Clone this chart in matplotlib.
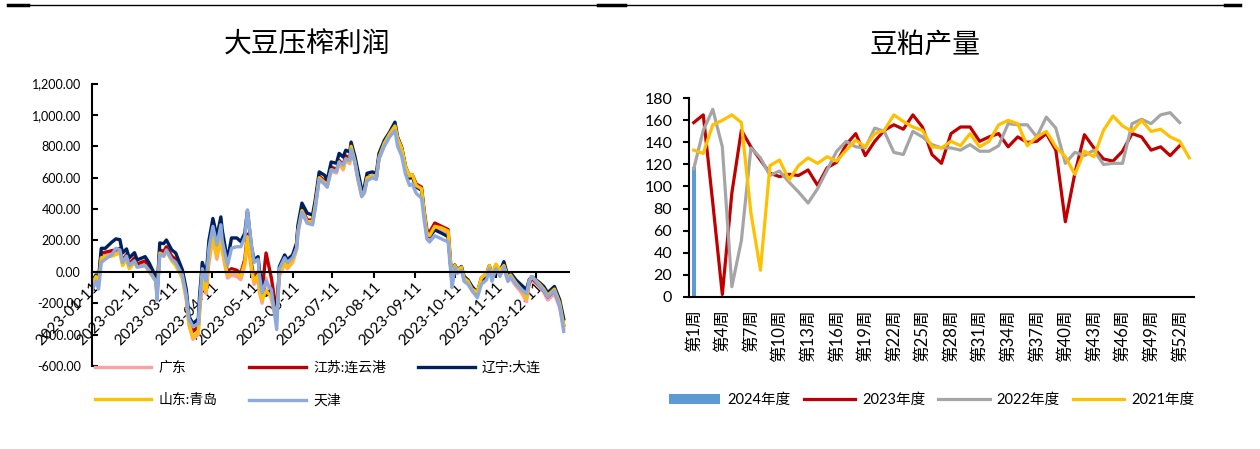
import matplotlib
matplotlib.use('Agg')
import matplotlib.pyplot as plt
import matplotlib.dates as mdates
from matplotlib.lines import Line2D
from matplotlib.ticker import FuncFormatter
import pandas as pd

plt.rcParams['font.family'] = ['Lato', 'Noto Sans CJK SC', 'DejaVu Sans']
plt.rcParams['axes.unicode_minus'] = False

# ---------------- 大豆压榨利润 (元/吨) ----------------
dates = ['2023-01-11', '2023-01-14', '2023-01-16', '2023-01-18', '2023-01-21', '2023-01-26', '2023-01-29',
         '2023-02-01', '2023-02-03', '2023-02-06', '2023-02-08', '2023-02-12', '2023-02-14', '2023-02-20',
         '2023-02-23', '2023-02-28', '2023-03-01', '2023-03-03', '2023-03-06', '2023-03-08', '2023-03-12',
         '2023-03-15', '2023-03-20', '2023-03-23', '2023-03-25', '2023-03-28', '2023-04-01', '2023-04-02',
         '2023-04-04', '2023-04-07', '2023-04-09', '2023-04-12', '2023-04-15', '2023-04-18', '2023-04-19',
         '2023-04-22', '2023-04-23', '2023-04-26', '2023-04-30', '2023-05-03', '2023-05-06', '2023-05-08',
         '2023-05-11', '2023-05-13', '2023-05-16', '2023-05-17', '2023-05-19', '2023-05-22', '2023-05-26',
         '2023-05-30', '2023-06-01', '2023-06-05', '2023-06-07', '2023-06-11', '2023-06-14', '2023-06-15',
         '2023-06-18', '2023-06-22', '2023-06-26', '2023-06-28', '2023-07-01', '2023-07-05', '2023-07-07',
         '2023-07-10', '2023-07-14', '2023-07-16', '2023-07-19', '2023-07-21', '2023-07-24', '2023-07-25',
         '2023-07-28', '2023-07-30', '2023-08-02', '2023-08-04', '2023-08-06', '2023-08-10', '2023-08-13',
         '2023-08-15', '2023-08-19', '2023-08-23', '2023-08-27', '2023-08-29', '2023-09-01', '2023-09-04',
         '2023-09-07', '2023-09-09', '2023-09-12', '2023-09-16', '2023-09-18', '2023-09-20', '2023-09-22',
         '2023-09-26', '2023-10-01', '2023-10-06', '2023-10-09', '2023-10-11', '2023-10-13', '2023-10-16',
         '2023-10-18', '2023-10-21', '2023-10-24', '2023-10-28', '2023-10-31', '2023-11-04', '2023-11-06',
         '2023-11-08', '2023-11-11', '2023-11-14', '2023-11-17', '2023-11-20', '2023-11-22', '2023-11-26',
         '2023-11-30', '2023-12-04', '2023-12-06', '2023-12-08', '2023-12-14', '2023-12-17', '2023-12-20',
         '2023-12-25', '2023-12-29', '2024-01-01']

guangdong = [-90, -40, -70, 100, 105, 115, 130, 130, 50, 90,
             30, 70, 40, 50, 10, -60, -160, 120, 110, 140,
             80, 50, -40, -180, -340, -430, -400, -260, -60, -140,
             60, 210, 80, 240, 130, 0, -40, -20, -30, -50,
             40, 200, 10, -80, -40, -130, -200, -40, -180, -320,
             -30, 50, 20, 60, 140, 250, 380, 310, 310, 410,
             590, 560, 540, 640, 630, 690, 650, 710, 690, 790,
             690, 590, 480, 500, 590, 600, 590, 720, 810, 870,
             920, 840, 780, 660, 600, 610, 540, 520, 370, 240,
             220, 280, 270, 250, -80, 30, 0, 20, -50, -70,
             -120, -150, -60, -30, 20, -40, 30, -10, 20, -60,
             -40, -90, -130, -190, -80, -50, -100, -130, -180, -140,
             -230, -360]

jiangsu = [-70, -30, -50, 120, 125, 135, 140, 150, 70, 110,
           50, 90, 50, 70, 30, -40, -130, 140, 130, 160,
           100, 80, -20, -150, -300, -380, -350, -220, -10, -90,
           110, 260, 130, 280, 180, 40, 0, 20, 10, -10,
           80, 240, 50, -40, 0, -80, -120, 120, -40, -260,
           0, 90, 50, 100, 170, 280, 400, 330, 330, 430,
           610, 580, 560, 670, 650, 710, 680, 740, 720, 800,
           700, 610, 500, 520, 600, 610, 600, 730, 820, 880,
           930, 850, 790, 670, 610, 620, 560, 540, 390, 270,
           250, 311, 290, 270, -70, 40, 10, 30, -30, -60,
           -100, -130, -40, -10, 40, -20, 40, 10, 40, -40,
           -20, -70, -110, -150, -70, -40, -90, -120, -160, -120,
           -210, -340]

dalian = [-60, -20, -40, 150, 150, 190, 210, 205, 120, 146,
          89, 122, 76, 97, 57, -30, -114, 184, 180, 203,
          140, 120, 13, -114, -284, -330, -300, -150, 60, -20,
          200, 340, 224, 350, 267, 120, 76, 216, 216, 193,
          247, 390, 161, 76, 97, 13, -70, -150, -114, -280,
          34, 108, 76, 108, 184, 298, 438, 374, 362, 457,
          637, 616, 584, 700, 692, 755, 732, 775, 764, 827,
          732, 648, 521, 542, 628, 637, 628, 755, 838, 891,
          954, 859, 796, 669, 597, 605, 542, 521, 374, 247,
          224, 267, 247, 224, -70, 44, 13, 34, -30, -51,
          -93, -133, -51, -30, 34, -30, 44, 2, 65, -30,
          -6, -51, -83, -114, -51, -30, -70, -93, -133, -93,
          -178, -300]

qingdao = [-80, -30, -60, 90, 95, 100, 110, 120, 40, 80,
           20, 60, 30, 40, 0, -60, -150, 120, 100, 130,
           70, 40, -40, -170, -330, -420, -380, -250, -40, -120,
           80, 230, 100, 260, 150, 20, -20, 0, -10, -30,
           60, 224, 30, -60, -20, -110, -180, -120, -160, -300,
           -20, 60, 30, 70, 150, 260, 390, 320, 320, 420,
           600, 570, 550, 650, 640, 700, 660, 720, 700, 800,
           700, 600, 490, 510, 600, 610, 600, 730, 820, 880,
           930, 850, 790, 670, 610, 620, 550, 530, 380, 250,
           230, 290, 280, 260, -60, 40, 10, 30, -40, -60,
           -110, -130, -40, -10, 40, -20, 50, 10, 40, -40,
           -20, -70, -110, -170, -60, -30, -80, -110, -150, -110,
           -200, -340]

tianjin = [-120, -60, -110, 60, 80, 110, 150, 140, 60, 100,
           40, 70, 30, 40, 10, -60, -180, 110, 100, 140,
           80, 60, -20, -150, -300, -350, -330, -200, 20, -60,
           150, 290, 170, 300, 200, 80, 40, 150, 160, 160,
           220, 395, 170, 60, 80, -20, -133, -60, -114, -368,
           20, 90, 60, 90, 150, 250, 380, 310, 300, 400,
           590, 560, 540, 650, 640, 700, 680, 720, 710, 780,
           690, 600, 480, 510, 580, 600, 590, 720, 800, 860,
           900, 800, 740, 620, 550, 560, 500, 470, 330, 210,
           190, 230, 210, 190, -100, 30, -10, 10, -60, -80,
           -120, -165, -80, -50, 20, -60, 20, -30, 30, -60,
           -30, -80, -110, -140, -60, -30, -90, -120, -160, -120,
           -220, -380]

# ---------------- 豆粕产量 (万吨, 周度) ----------------
weeks = [f'第{i}周' for i in range(1, 54)]
meal_2024 = [118]
meal_2023 = [158, 165, 85, 2, 94, 151, 136, 124, 112, 109, 111, 110, 115, 101, 117, 122, 138, 148,
             128, 141, 151, 156, 152, 165, 154, 129, 121, 148, 154, 154, 141, 145, 148, 136, 145, 140,
             141, 148, 133, 68, 112, 147, 135, 125, 123, 132, 148, 145, 133, 136, 128, 137]
meal_2022 = [116, 151, 170, 136, 9, 51, 135, 126, 110, 114, 104, 95, 85, 98, 115, 132, 141, 136,
             135, 153, 150, 131, 129, 150, 145, 138, 135, 135, 133, 138, 132, 132, 137, 157, 156, 156,
             145, 163, 153, 121, 131, 128, 133, 120, 121, 121, 157, 161, 157, 165, 167, 158]
meal_2021 = [133, 130, 156, 160, 165, 158, 76, 24, 119, 124, 106, 119, 126, 121, 127, 123, 133, 142,
             136, 148, 151, 165, 159, 154, 151, 136, 135, 141, 137, 148, 136, 141, 156, 160, 157, 137,
             145, 150, 136, 127, 111, 132, 127, 151, 164, 155, 150, 160, 150, 152, 145, 141, 126]

fig = plt.figure(figsize=(12.6, 4.49), dpi=100)

# 顶部边框线
fig.add_artist(Line2D([8 / 1260, 1240 / 1260], [0.989, 0.989], transform=fig.transFigure,
                      color='black', lw=1.0))
for x0, x1 in [(8, 28), (598, 625), (1225, 1240)]:
    fig.add_artist(Line2D([x0 / 1260, x1 / 1260], [0.989, 0.989], transform=fig.transFigure,
                          color='black', lw=2.5))

# ============================================================
# 左图: 大豆压榨利润
# ============================================================
ax1 = fig.add_axes([0.073, 0.1849, 0.3786, 0.629])
x = pd.to_datetime(dates)
series = [
    (guangdong, '广东', '#FF9F9F'),
    (jiangsu, '江苏:连云港', '#C00000'),
    (dalian, '辽宁:大连', '#002060'),
    (qingdao, '山东:青岛', '#FFC000'),
    (tianjin, '天津', '#8EA9DB'),
]
lines = {}
for vals, name, color in series:
    ln, = ax1.plot(x, vals, color=color, lw=2.4, label=name, solid_joinstyle='round')
    lines[name] = ln

ax1.set_ylim(-600, 1200)
ax1.set_yticks(range(-600, 1201, 200))
ax1.yaxis.set_major_formatter(FuncFormatter(lambda v, p: f'{v:,.2f}'))
ax1.set_xlim(pd.Timestamp('2023-01-11'), pd.Timestamp('2024-01-05'))
ax1.xaxis.set_major_locator(mdates.MonthLocator(bymonthday=11))
ax1.xaxis.set_major_formatter(mdates.DateFormatter('%Y-%m-%d'))
ax1.spines['bottom'].set_position(('data', 0))
for s in ['top', 'right']:
    ax1.spines[s].set_visible(False)
for s in ['left', 'bottom']:
    ax1.spines[s].set_linewidth(1.5)
ax1.tick_params(axis='y', direction='in', length=4, width=1.5, labelsize=9, pad=8)
ax1.tick_params(axis='x', direction='out', length=4, width=1.5, labelsize=11, pad=2)
for lab in ax1.get_xticklabels():
    lab.set_rotation(45)
    lab.set_ha('right')
    lab.set_rotation_mode('anchor')

fig.text(0.2437, 0.9, '大豆压榨利润', ha='center', va='center', fontsize=20,
         family=['Noto Sans CJK SC'], fontweight='light')

# 图例按行排列: 广东 / 江苏 / 辽宁, 山东 / 天津
order = ['广东', '山东:青岛', '江苏:连云港', '天津', '辽宁:大连']
fig.legend([lines[n] for n in order], order, ncol=3, loc='upper left',
           bbox_to_anchor=(0.075, 0.197), frameon=False, fontsize=10,
           handlelength=4.1, handletextpad=0.5, columnspacing=2.3,
           labelspacing=1.4, borderpad=0, borderaxespad=0)

# ============================================================
# 右图: 豆粕产量
# ============================================================
ax2 = fig.add_axes([0.5468, 0.3392, 0.4008, 0.4418])
bar24 = ax2.bar(range(len(meal_2024)), meal_2024, width=0.45, color='#5B9BD5', label='2024年度')
l23, = ax2.plot(range(len(meal_2023)), meal_2023, color='#C00000', lw=2.3, label='2023年度')
l22, = ax2.plot(range(len(meal_2022)), meal_2022, color='#A5A5A5', lw=2.3, label='2022年度')
l21, = ax2.plot(range(len(meal_2021)), meal_2021, color='#FFC000', lw=2.3, label='2021年度')

ax2.set_xlim(-0.5, len(weeks) - 0.5)
ax2.set_ylim(0, 180)
ax2.set_yticks(range(0, 181, 20))
ax2.set_xticks(range(0, len(weeks), 3))
ax2.set_xticklabels(weeks[::3], rotation=90, fontsize=12,
                    family=['Lato', 'Noto Sans CJK SC'])
for s in ['top', 'right']:
    ax2.spines[s].set_visible(False)
for s in ['left', 'bottom']:
    ax2.spines[s].set_linewidth(1.5)
ax2.tick_params(axis='y', direction='out', length=4, width=1.5, labelsize=11.5, pad=8)
ax2.tick_params(axis='x', length=0, pad=9)

fig.text(0.734, 0.9, '豆粕产量', ha='center', va='center', fontsize=20,
         family=['Noto Sans CJK SC'], fontweight='light')

fig.legend([bar24, l23, l22, l21], ['2024年度', '2023年度', '2022年度', '2021年度'],
           ncol=4, loc='center left', bbox_to_anchor=(0.531, 0.109),
           frameon=False, fontsize=10.5, handlelength=3.5, handletextpad=0.5,
           columnspacing=0.9, borderpad=0, borderaxespad=0)

fig.savefig('out.png', dpi=100)
